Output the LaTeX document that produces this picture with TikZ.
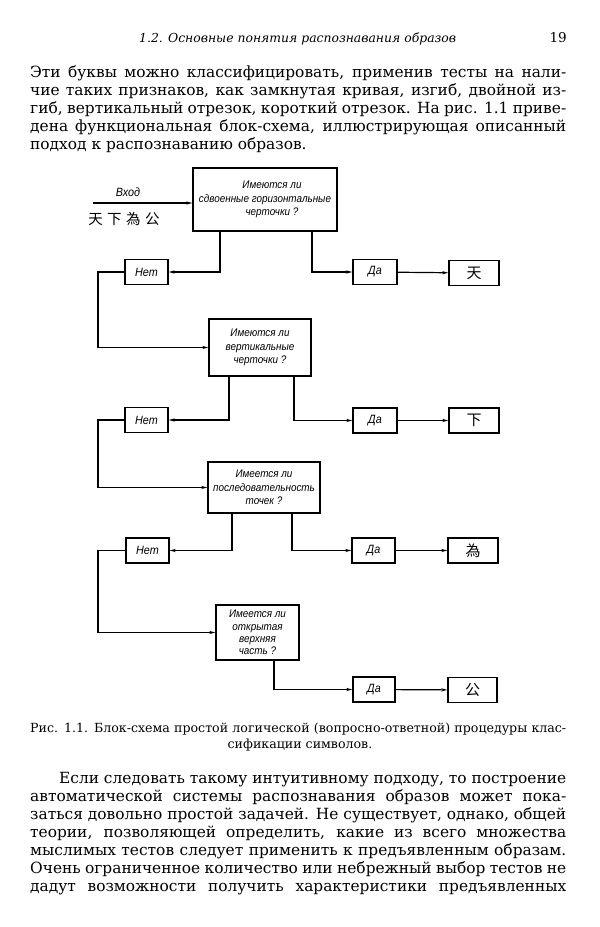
\documentclass[tikz,border=0pt]{standalone}
\usepackage{fontspec}
\setmainfont{DejaVu Serif}
\newfontfamily\schemefont[FakeStretch=0.9]{Liberation Sans}
\newfontfamily\cjk{Noto Sans CJK SC}
\usetikzlibrary{arrows.meta}
\newcommand{\jline}[2][536pt]{\makebox[#1][s]{#2}}

\begin{document}
\begin{tikzpicture}[x=1pt,y=-1pt,
  body/.style={font=\fontsize{15.4}{18}\selectfont, inner sep=0pt, anchor=base west},
  capt/.style={font=\fontsize{12.6}{16}\selectfont, inner sep=0pt, anchor=base west},
  qbox/.style={draw, line width=1.5pt, inner sep=2pt, align=center,
    font=\schemefont\itshape\fontsize{11}{13.5}\selectfont},
  abox/.style={draw, line width=1.5pt, minimum width=43pt, minimum height=25pt,
    inner sep=0pt, font=\schemefont\itshape\fontsize{12}{13}\selectfont},
  rbox/.style={abox, minimum width=50pt, font=\cjk\fontsize{15}{15}\selectfont},
  link/.style={line width=1.2pt, -{Stealth[length=6pt,width=3.2pt]}}]
  \useasboundingbox (0,0) rectangle (600,927);
  \fill[white] (0,0) rectangle (600,927);

  % running head
  \node[font=\itshape\fontsize{12.4}{14}\selectfont, inner sep=0pt, anchor=base west] (head) at (139,42)
    {1.2. Основные понятия распознавания образов};
  \node[font=\fontsize{13.5}{14}\selectfont, inner sep=0pt, anchor=base east] (pageno) at (567,42) {19};

  % text above the figure
  \foreach \ln [count=\i] in {{Эти буквы можно классифицировать, применив тесты на нали-},
      {чие таких признаков, как замкнутая кривая, изгиб, двойной из-},
      {гиб, вертикальный отрезок, короткий отрезок. На рис. 1.1 приве-},
      {дена функциональная блок-схема, иллюстрирующая описанный}}
    \node[body] (top-\i) at (30,{77+18*(\i-1)}) {\jline{\ln}};
  \node[body] (top-5) at (30,149) {подход к распознаванию образов.};

  % input
  \coordinate (in) at (93,203);
  \coordinate (rail) at (98,0);
  \node[font=\schemefont\itshape\fontsize{12}{13}\selectfont] (inlabel) at (128,192) {Вход};
  \node[font=\cjk\fontsize{14.5}{14}\selectfont] (inchars) at (124,219)
    {天\hspace{4.5pt}下\hspace{4.5pt}為\hspace{4.5pt}公};

  % question boxes
  \node[qbox, minimum width=144pt, minimum height=63pt] (q1) at (265,199.5)
    {\hspace*{14pt}Имеются ли\\сдвоенные горизонтальные\\\hspace*{14pt}черточки ?};
  \node[qbox, minimum width=102pt, minimum height=57pt] (q2) at (260,347.5)
    {Имеются ли\\вертикальные\\черточки ?};
  \node[qbox, minimum width=112pt, minimum height=51pt] (q3) at (264,487.5)
    {Имеется ли\\последовательность\\точек ?};
  \node[qbox, minimum width=83pt, minimum height=55pt,
    font=\schemefont\itshape\fontsize{11}{12.3}\selectfont] (q4) at (257.5,632.5)
    {Имеется ли\\открытая\\верхняя\\часть ?};

  % answers
  \node[abox] (net1) at (146.5,272) {Нет};
  \node[abox, minimum width=44pt] (da1) at (375,272) {Да};
  \node[rbox] (r1) at (474,273) {天};
  \node[abox] (net2) at (146.5,420) {Нет};
  \node[abox, minimum width=44pt] (da2) at (375,420.5) {Да};
  \node[rbox] (r2) at (474,420.5) {下};
  \node[abox] (net3) at (147.5,550.5) {Нет};
  \node[abox] (da3) at (373.5,550.5) {Да};
  \node[rbox] (r3) at (473,550.5) {為};
  \node[abox, minimum width=42pt] (da4) at (374,689.5) {Да};
  \node[rbox, minimum width=49pt] (r4) at (472.5,690) {公};

  % connections
  \draw[link] (in) -- (in -| q1.west);
  \draw[link] ([xshift=-45pt]q1.south) |- (net1);
  \draw[link] ([xshift=47pt]q1.south) |- (da1);
  \draw[link] (da1) -- (r1);
  \draw[link] (net1.west) -- (net1.west -| rail) |- (q2);
  \draw[link] ([xshift=-31pt]q2.south) |- (net2);
  \draw[link] ([xshift=34pt]q2.south) |- (da2);
  \draw[link] (da2) -- (r2);
  \draw[link] (net2.west) -- (net2.west -| rail) |- (q3);
  \draw[link] ([xshift=-32pt]q3.south) |- (net3);
  \draw[link] ([xshift=28pt]q3.south) |- (da3);
  \draw[link] (da3) -- (r3);
  \draw[link] (net3.west) -- (net3.west -| rail) |- (q4);
  \draw[link] ([xshift=16.5pt]q4.south) |- (da4);
  \draw[link] (da4) -- (r4);

  % caption
  \node[capt] (cap-1) at (30,732)
    {\jline{Рис. 1.1. Блок-схема простой логической (вопросно-ответной) процедуры клас-}};
  \node[capt, anchor=base] (cap-2) at (300,748) {сификации символов.};

  % text below the figure
  \node[body] (bot-1) at (59,783)
    {\jline[507pt]{Если следовать такому интуитивному подходу, то построение}};
  \foreach \ln [count=\i from 2] in {{автоматической системы распознавания образов может пока-},
      {заться довольно простой задачей. Не существует, однако, общей},
      {теории, позволяющей определить, какие из всего множества},
      {мыслимых тестов следует применить к предъявленным образам.},
      {Очень ограниченное количество или небрежный выбор тестов не},
      {дадут возможности получить характеристики предъявленных}}
    \node[body] (bot-\i) at (30,{783+18*(\i-1)}) {\jline{\ln}};
\end{tikzpicture}
\end{document}
